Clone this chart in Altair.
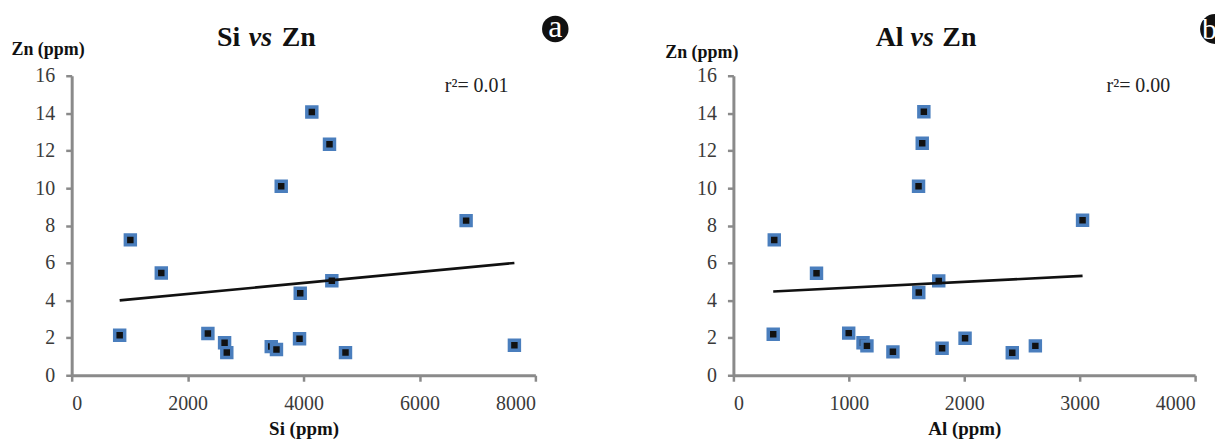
import math
import altair as alt
import pandas as pd

# ---- data ----
si_ppm = [828, 1012, 1546, 2350, 2638, 2676, 3443, 3533, 3615, 3931, 3943, 4143, 4448, 4488, 4724, 6805, 7638]
si_zn = [2.14, 7.23, 5.46, 2.23, 1.74, 1.21, 1.53, 1.38, 10.1, 1.95, 4.38, 14.06, 12.34, 5.05, 1.21, 8.26, 1.60]
al_ppm = [345, 354, 720, 999, 1123, 1157, 1382, 1604, 1606, 1636, 1650, 1779, 1808, 2007, 2416, 2616, 3025]
al_zn = [2.19, 7.23, 5.45, 2.25, 1.74, 1.57, 1.25, 10.1, 4.42, 12.39, 14.08, 5.04, 1.44, 1.98, 1.20, 1.57, 8.28]

si_fit_x = [828, 7638]
si_fit_y = [4.0, 6.0]
al_fit_x = [345, 3025]
al_fit_y = [4.47, 5.31]

si_ticks = [0, 2000, 4000, 6000, 8000]
al_ticks = [0, 1000, 2000, 3000, 4000]
zn_ticks = [0, 2, 4, 6, 8, 10, 12, 14, 16]

titles_a = ["Si", "vs", "Zn"]
titles_b = ["Al", "vs", "Zn"]
r2_labels = ["r\u00b2= 0.01", "r\u00b2= 0.00"]
badges = ["a", "b"]
x_titles = ["Si (ppm)", "Al (ppm)"]
y_title = "Zn (ppm)"

SERIF = "Liberation Serif, DejaVu Serif, serif"
AX_GRAY = "#8a8a8a"
LBL = "#3a3a3a"
BLUE = "#4a7ebd"


def one(t):
    return pd.DataFrame({"t": [t]})


def panel(xs, ys, fx, fy, xmax, xticks, xtitle, tparts, tpos, r2, badge, ytx, yty, w, half_badge):
    h = 301
    pts = pd.DataFrame({"x": xs, "y": ys})
    fit = pd.DataFrame({"x": fx, "y": fy})
    xsc = alt.Scale(domain=[0, xmax], nice=False)
    ysc = alt.Scale(domain=[0, 16], nice=False)
    xax = alt.Axis(
        values=xticks, title=xtitle, grid=False, format="d",
        domainColor=AX_GRAY, domainWidth=3, tickColor=AX_GRAY, tickWidth=2.5, tickSize=6,
        labelFont=SERIF, labelFontSize=20, labelColor=LBL, labelPadding=12,
        titleFont=SERIF, titleFontSize=19, titleFontWeight="bold", titleColor="#111",
        titleY=60, titleBaseline="alphabetic",
    )
    yax = alt.Axis(
        values=zn_ticks, title=y_title, grid=False,
        domainColor=AX_GRAY, domainWidth=3, tickColor=AX_GRAY, tickWidth=2.5, tickSize=6,
        labelFont=SERIF, labelFontSize=20, labelColor=LBL, labelPadding=11,
        titleFont=SERIF, titleFontSize=18, titleFontWeight="bold", titleColor="#111",
        titleAngle=0, titleAlign="left", titleBaseline="alphabetic", titleX=ytx, titleY=yty,
    )
    points = alt.Chart(pts).mark_square(
        size=100, filled=True, color="#111", stroke=BLUE, strokeWidth=3.5, opacity=1
    ).encode(x=alt.X("x:Q", scale=xsc, axis=xax), y=alt.Y("y:Q", scale=ysc, axis=yax))
    line = alt.Chart(fit).mark_line(color="#111", strokeWidth=2.6).encode(
        x=alt.X("x:Q", scale=xsc, axis=xax), y=alt.Y("y:Q", scale=ysc, axis=yax)
    )
    layers = [points, line]
    styles = [("bold", "normal"), ("bold", "italic"), ("bold", "normal")]
    for part, px, (fw, fs) in zip(tparts, tpos, styles):
        layers.append(
            alt.Chart(one(part)).mark_text(
                align="left", baseline="alphabetic", font=SERIF, fontSize=28,
                fontWeight=fw, fontStyle=fs, color="#111"
            ).encode(x=alt.value(px), y=alt.value(-30), text="t:N")
        )
    layers.append(
        alt.Chart(one(r2)).mark_text(
            align="left", baseline="alphabetic", font=SERIF, fontSize=20, color="#222"
        ).encode(x=alt.value(375), y=alt.value(16), text="t:N")
    )
    if half_badge:
        layers.append(
            alt.Chart(one(badge)).mark_arc(
                theta=math.pi, theta2=2 * math.pi, radius=15, color="#111"
            ).encode(x=alt.value(484), y=alt.value(-47))
        )
        layers.append(
            alt.Chart(one(badge)).mark_text(
                align="left", baseline="alphabetic", font=SERIF, fontSize=30, color="white"
            ).encode(x=alt.value(471), y=alt.value(-37), text="t:N")
        )
    else:
        layers.append(
            alt.Chart(one(badge)).mark_circle(size=707, color="#111", opacity=1).encode(
                x=alt.value(486), y=alt.value(-47)
            )
        )
        layers.append(
            alt.Chart(one(badge)).mark_text(
                align="center", baseline="alphabetic", font=SERIF, fontSize=32, color="white"
            ).encode(x=alt.value(486), y=alt.value(-39), text="t:N")
        )
    return alt.layer(*layers).properties(width=w, height=h)


left = panel(si_ppm, si_zn, si_fit_x, si_fit_y, 8000, si_ticks, x_titles[0], titles_a,
             [146, 178, 211], r2_labels[0], badges[0], -61, -21, 466, False)
right = panel(al_ppm, al_zn, al_fit_x, al_fit_y, 4000, al_ticks, x_titles[1], titles_b,
              [143, 178, 210], r2_labels[1], badges[1], -69, -18, 464, True)

chart = alt.hconcat(left, right, spacing=96).properties(
    padding={"left": 3, "top": 2, "right": 0, "bottom": 0},
    background="white",
).configure_view(stroke=None)

chart.save("out.html", embed_options={"renderer": "svg", "actions": False})
